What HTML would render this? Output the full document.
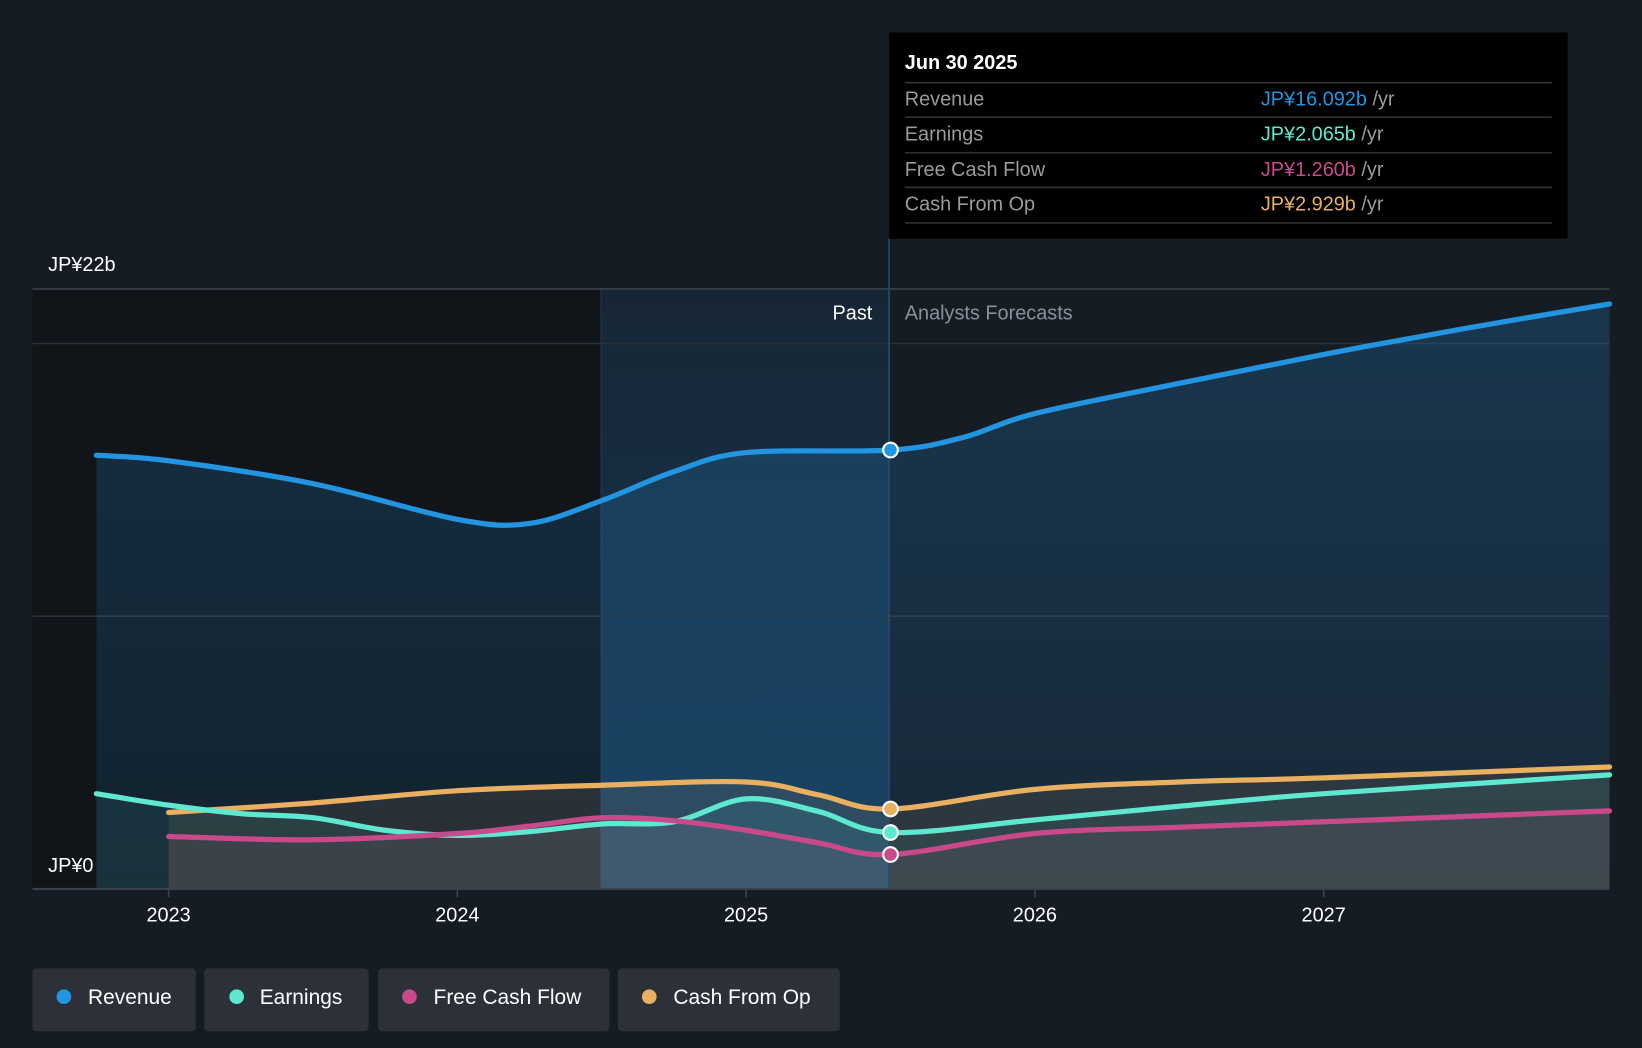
<!DOCTYPE html>
<html><head><meta charset="utf-8">
<style>
html,body{margin:0;padding:0;background:#161c24;width:1642px;height:1048px;overflow:hidden}
svg{display:block}
text{font-family:"Liberation Sans",sans-serif}
</style></head>
<body>
<svg id="chart" width="1642" height="1048" viewBox="0 0 1568 1001" preserveAspectRatio="none" xmlns="http://www.w3.org/2000/svg">
<defs>
<linearGradient id="gRev" x1="0" y1="0" x2="0" y2="1"><stop offset="0" stop-color="#2394df" stop-opacity="0.22"/><stop offset="1" stop-color="#2394df" stop-opacity="0.10"/></linearGradient>
<linearGradient id="gPast" x1="0" y1="0" x2="0" y2="1"><stop offset="0" stop-color="#1b6fb0" stop-opacity="0.12"/><stop offset="1" stop-color="#1b6fb0" stop-opacity="0.35"/></linearGradient>
</defs>
<rect x="0" y="0" width="1568" height="1001" fill="#161c24"/>
<rect x="31" y="276" width="543" height="573" fill="#111419"/>
<rect x="574" y="276" width="275" height="573" fill="url(#gPast)"/>
<line x1="574" y1="276" x2="574" y2="849" stroke="#2a3a4c" stroke-width="1"/>
<g id="grid"></g>
<g id="areas"></g>
<g id="lines"></g>
<line x1="849" y1="228" x2="849" y2="849" stroke="#2a4a68" stroke-width="1.5"/>
<text x="833" y="305" fill="#fff" font-size="19" text-anchor="end">Past</text>
<text x="864" y="305" fill="#8a9099" font-size="19">Analysts Forecasts</text>
<g id="dots"></g>
<line x1="31" y1="849" x2="1537" y2="849" stroke="#3c4350" stroke-width="2"/>
<g id="xticks"></g>
<text x="46" y="259" fill="#fff" font-size="19">JP¥22b</text>
<text x="46" y="833" fill="#fff" font-size="19">JP¥0</text>

<g>
<rect x="849" y="31" width="648" height="197" fill="#000"/>
<text x="864" y="66" fill="#fff" font-size="19" font-weight="bold">Jun 30 2025</text>
<line x1="864" y1="79" x2="1482" y2="79" stroke="#333" stroke-width="1.5"/>
<text x="864" y="101" fill="#9a9a9a" font-size="19">Revenue</text>
<text x="1204" y="101" font-size="19"><tspan fill="#2394df">JP¥16.092b</tspan><tspan fill="#9a9a9a"> /yr</tspan></text>
<line x1="864" y1="112" x2="1482" y2="112" stroke="#333" stroke-width="1.5"/>
<text x="864" y="134" fill="#9a9a9a" font-size="19">Earnings</text>
<text x="1204" y="134" font-size="19"><tspan fill="#5ee8d0">JP¥2.065b</tspan><tspan fill="#9a9a9a"> /yr</tspan></text>
<line x1="864" y1="146" x2="1482" y2="146" stroke="#333" stroke-width="1.5"/>
<text x="864" y="168" fill="#9a9a9a" font-size="19">Free Cash Flow</text>
<text x="1204" y="168" font-size="19"><tspan fill="#c94a8a">JP¥1.260b</tspan><tspan fill="#9a9a9a"> /yr</tspan></text>
<line x1="864" y1="179" x2="1482" y2="179" stroke="#333" stroke-width="1.5"/>
<text x="864" y="201" fill="#9a9a9a" font-size="19">Cash From Op</text>
<text x="1204" y="201" font-size="19"><tspan fill="#e8b060">JP¥2.929b</tspan><tspan fill="#9a9a9a"> /yr</tspan></text>
<line x1="864" y1="213" x2="1482" y2="213" stroke="#333" stroke-width="1.5"/>
</g>

<g>
<g><rect x="31" y="925" width="156" height="60" rx="4" fill="#2c3039"/><circle cx="61" cy="952" r="7" fill="#2394df"/><text x="84" y="959" fill="#fff" font-size="20">Revenue</text></g>
<g><rect x="195" y="925" width="157" height="60" rx="4" fill="#2c3039"/><circle cx="226" cy="952" r="7" fill="#5ee8d0"/><text x="248" y="959" fill="#fff" font-size="20">Earnings</text></g>
<g><rect x="361" y="925" width="221" height="60" rx="4" fill="#2c3039"/><circle cx="391" cy="952" r="7" fill="#c94a8a"/><text x="414" y="959" fill="#fff" font-size="20">Free Cash Flow</text></g>
<g><rect x="590" y="925" width="212" height="60" rx="4" fill="#2c3039"/><circle cx="620" cy="952" r="7" fill="#e8b060"/><text x="643" y="959" fill="#fff" font-size="20">Cash From Op</text></g>
</g>
</svg>
<script>
const xTicks = [2023, 2024, 2025, 2026, 2027];
const gridValues = [10, 20];
const revT = [2022.75, 2023, 2023.5, 2024, 2024.25, 2024.5, 2024.75, 2025, 2025.5, 2025.75, 2026, 2026.5, 2027, 2027.5, 2027.99];
const revV = [15.9, 15.7, 14.86, 13.55, 13.4, 14.24, 15.3, 16.0, 16.092, 16.55, 17.43, 18.54, 19.6, 20.57, 21.45];
const earnT = [2022.75, 2023, 2023.25, 2023.5, 2023.75, 2024, 2024.25, 2024.5, 2024.75, 2025, 2025.25, 2025.5, 2026, 2026.5, 2027, 2027.99];
const earnV = [3.49, 3.07, 2.76, 2.61, 2.15, 1.96, 2.1, 2.38, 2.46, 3.3, 2.84, 2.065, 2.53, 3.03, 3.49, 4.18];
const fcfT = [2023, 2023.5, 2024, 2024.25, 2024.5, 2024.75, 2025, 2025.25, 2025.5, 2026, 2026.5, 2027, 2027.99];
const fcfV = [1.92, 1.8, 2.03, 2.3, 2.61, 2.5, 2.15, 1.69, 1.26, 2.03, 2.26, 2.46, 2.86];
const cfoT = [2023, 2023.5, 2024, 2024.5, 2025, 2025.25, 2025.5, 2026, 2026.5, 2027, 2027.99];
const cfoV = [2.8, 3.15, 3.6, 3.8, 3.92, 3.45, 2.929, 3.65, 3.92, 4.07, 4.47];
const nowT = 2025.5;

const NS = "http://www.w3.org/2000/svg";
const xS = t => 161 + (t - 2023) * 275.75;
const yS = v => 849 - v * (573 / 22);

function mk(tag, attrs, parent){const e=document.createElementNS(NS,tag);for(const k in attrs)e.setAttribute(k,attrs[k]);parent.appendChild(e);return e;}
function pathD(T,V){
  const p=T.map((t,i)=>[xS(t),yS(V[i])]);
  let d=`M${p[0][0]},${p[0][1]}`;
  for(let i=0;i<p.length-1;i++){
    const p0=p[i-1]||p[i],p1=p[i],p2=p[i+1],p3=p[i+2]||p2;
    const c1=[p1[0]+(p2[0]-p0[0])/6,p1[1]+(p2[1]-p0[1])/6];
    const c2=[p2[0]-(p3[0]-p1[0])/6,p2[1]-(p3[1]-p1[1])/6];
    d+=` C${c1[0]},${c1[1]} ${c2[0]},${c2[1]} ${p2[0]},${p2[1]}`;
  }
  return d;
}
const grid=document.getElementById('grid');
mk('line',{x1:31,y1:yS(22),x2:1537,y2:yS(22),stroke:'#3a404a','stroke-width':1.5},grid);
gridValues.forEach(v=>{
  const l=mk('line',{x1:31,y1:yS(v),x2:1537,y2:yS(v),stroke:'#2a3038','stroke-width':1.5},grid);
  
  
});
const xt=document.getElementById('xticks');
xTicks.forEach(t=>{
  mk('line',{x1:xS(t),y1:849,x2:xS(t),y2:857,stroke:'#3c4350','stroke-width':1.5},xt);
  const tx=mk('text',{x:xS(t),y:880,fill:'#fff','font-size':19,'text-anchor':'middle'},xt);
  tx.textContent=t;
  
  
});
const areas=document.getElementById('areas'), lines=document.getElementById('lines'), dots=document.getElementById('dots');
const series=[
  {n:'revenue',T:revT,V:revV,c:'#2394df',f:'url(#gRev)'},
  {n:'cash-from-op',T:cfoT,V:cfoV,c:'#e8b060',f:'rgba(200,160,110,0.12)'},
  {n:'earnings',T:earnT,V:earnV,c:'#5ee8d0',f:'rgba(80,200,190,0.10)'},
  {n:'free-cash-flow',T:fcfT,V:fcfV,c:'#c94a8a',f:'rgba(200,110,140,0.10)'}
];
series.forEach(s=>{
  const d=pathD(s.T,s.V);
  const x0=xS(s.T[0]),x1=xS(s.T[s.T.length-1]);
  const a=mk('path',{d:d+` L${x1},849 L${x0},849 Z`,fill:s.f},areas);
  
  
  const l=mk('path',{d:d,fill:'none',stroke:s.c,'stroke-width':5,'stroke-linecap':'round'},lines);
  
  
  const i=s.T.indexOf(nowT);
  const c=mk('circle',{cx:xS(nowT),cy:yS(s.V[i]),r:7,fill:s.c,stroke:'#fff','stroke-width':2},dots);
  
  
});
</script>
</body></html>
